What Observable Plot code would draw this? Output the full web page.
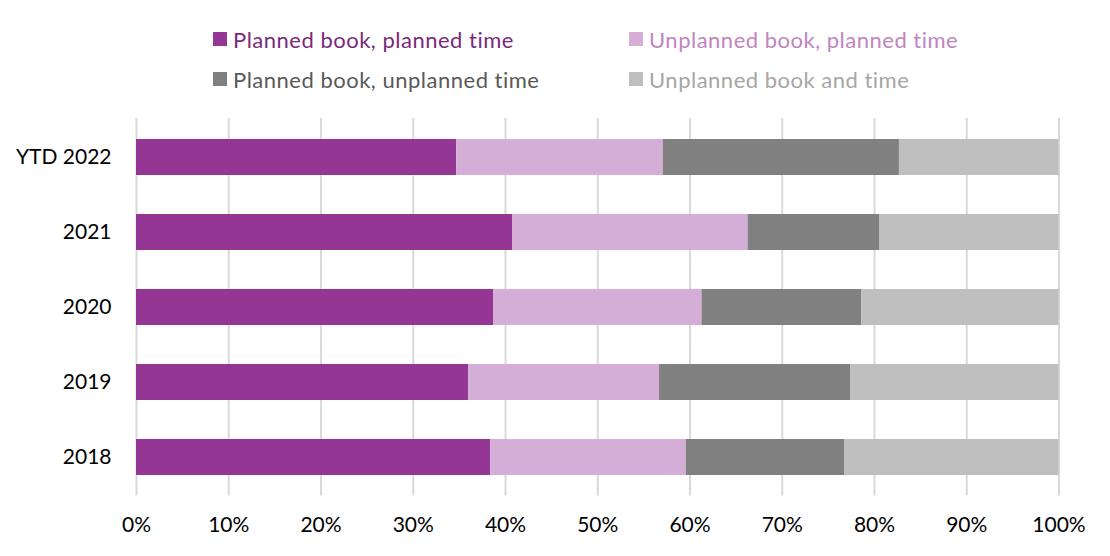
<!DOCTYPE html>
<html>
<head>
<meta charset="utf-8">
<script src="https://cdn.jsdelivr.net/npm/d3@7"></script>
<script src="https://cdn.jsdelivr.net/npm/@observablehq/plot@0.6"></script>
<style>
  html, body { margin: 0; padding: 0; background: #fff; }
  body { width: 1110px; height: 556px; overflow: hidden; font-family: Lato, "Open Sans", sans-serif; }
  #legend { position: relative; width: 1110px; height: 100px; }
  .item { position: absolute; display: flex; align-items: center; font-size: 22px; letter-spacing: 0.5px; white-space: nowrap; }
  .sw { width: 14px; height: 14px; margin-right: 6px; }
  #chart svg { display: block; }
</style>
</head>
<body>
<div id="legend"></div>
<div id="chart"></div>
<script>
const categories = ["YTD 2022", "2021", "2020", "2019", "2018"];
const series = [
  "Planned book, planned time",
  "Unplanned book, planned time",
  "Planned book, unplanned time",
  "Unplanned book and time"
];
const plannedBookPlannedTime = [34.7, 40.8, 38.7, 36.0, 38.4];
const unplannedBookPlannedTime = [22.4, 25.5, 22.6, 20.7, 21.2];
const plannedBookUnplannedTime = [25.6, 14.3, 17.3, 20.7, 17.2];
const unplannedBookAndTime = [17.3, 19.4, 21.4, 22.6, 23.2];
const xTicks = [0, 10, 20, 30, 40, 50, 60, 70, 80, 90, 100];

const seriesValues = [plannedBookPlannedTime, unplannedBookPlannedTime, plannedBookUnplannedTime, unplannedBookAndTime];
const barColors = ["#943694", "#D4AED6", "#808080", "#BFBFBF"];
const textColors = ["#7A2A7A", "#C184C1", "#595959", "#A6A6A6"];
const legendPos = [[213, 39], [629, 39], [213, 79], [629, 79]];

const data = [];
series.forEach((s, i) => categories.forEach((c, j) => data.push({category: c, series: s, value: seriesValues[i][j]})));

// Legend
const legend = document.getElementById("legend");
series.forEach((s, i) => {
  const it = document.createElement("div");
  it.className = "item";
  it.style.left = legendPos[i][0] + "px";
  it.style.top = (legendPos[i][1] - 13) + "px";
  it.style.height = "26px";
  it.style.color = textColors[i];
  const sw = document.createElement("span");
  sw.className = "sw";
  sw.style.background = barColors[i];
  const tx = document.createElement("span");
  tx.textContent = s;
  it.appendChild(sw);
  it.appendChild(tx);
  legend.appendChild(it);
});

const chart = Plot.plot({
  width: 1110,
  height: 456,
  marginTop: 18,
  marginBottom: 60.5,
  marginLeft: 136,
  marginRight: 51.5,
  style: {fontFamily: "Lato, 'Open Sans', sans-serif", fontSize: "21px", color: "#000", background: "#fff"},
  x: {domain: [0, 100], ticks: xTicks, label: null},
  y: {domain: categories, paddingInner: 0.52, paddingOuter: 0.26, label: null},
  color: {domain: series, range: barColors},
  marks: [
    Plot.gridX(xTicks, {stroke: "#D9D9D9", strokeWidth: 2, strokeOpacity: 1}),
    Plot.barX(data, Plot.stackX({x: "value", y: "category", fill: "series", order: series})),
    Plot.axisX(xTicks, {tickSize: 0, tickPadding: 21, tickFormat: d => d + "%", fill: "#000", label: null}),
    Plot.axisY({tickSize: 0, tickPadding: 25, fill: "#000", label: null})
  ]
});
document.getElementById("chart").appendChild(chart);
</script>
</body>
</html>
